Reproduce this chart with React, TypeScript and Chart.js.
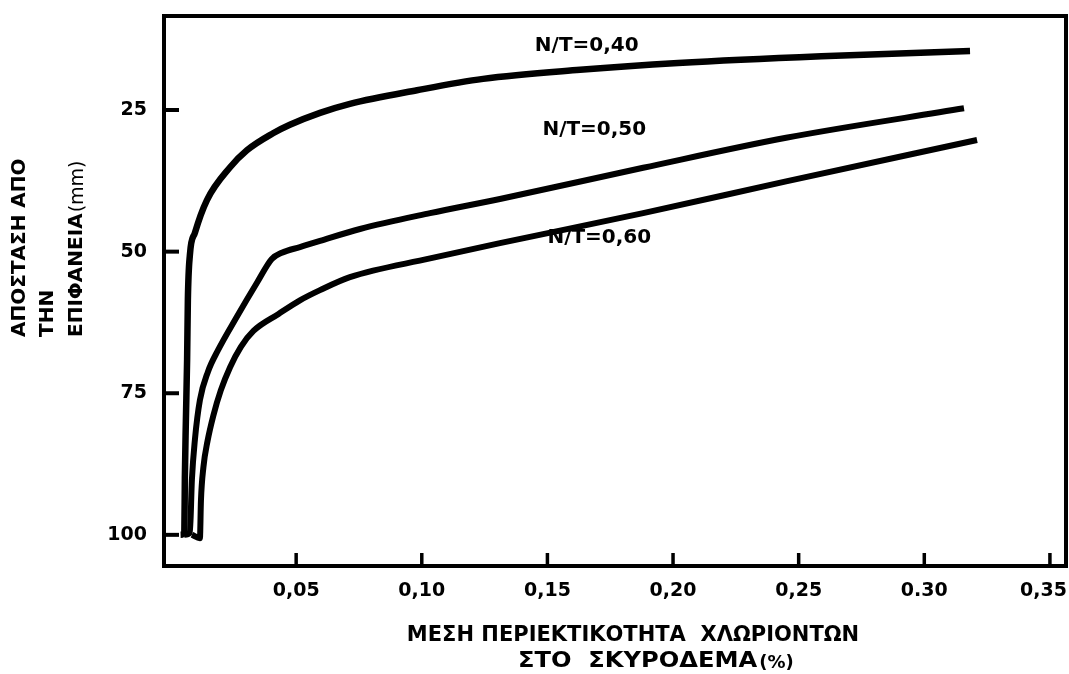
import React, { useEffect, useRef } from "react";
import { Chart, registerables } from "chart.js";

Chart.register(...registerables);

// Axis ticks
const xTickValues = [0.05, 0.1, 0.15, 0.2, 0.25, 0.3, 0.35];
const xTickLabels = ["0,05", "0,10", "0,15", "0,20", "0,25", "0.30", "0,35"];
const yTickValues = [25, 50, 75, 100];
const yTickLabels = ["25", "50", "75", "100"];

// Series names
const seriesNames = ["N/T=0,40", "N/T=0,50", "N/T=0,60"];

// N/T = 0,40 : chloride content (%) vs depth (mm)
const chloride040 = [0.004, 0.0055, 0.0057, 0.0061, 0.0066, 0.0069, 0.0077, 0.0097, 0.0145, 0.0237, 0.0304, 0.0408, 0.0475, 0.0595, 0.0714, 0.0981, 0.1244, 0.163, 0.202, 0.259, 0.3182];
const depth040 = [100, 99.5, 90, 80, 69, 58.5, 50.6, 46.7, 40.9, 35.1, 32.1, 29.1, 27.6, 25.5, 23.9, 21.5, 19.5, 17.9, 16.7, 15.5, 14.6];

// N/T = 0,50
const chloride050 = [0.0055, 0.0077, 0.0085, 0.0097, 0.0117, 0.0149, 0.0189, 0.0264, 0.0344, 0.0403, 0.0443, 0.0515, 0.0595, 0.0754, 0.1033, 0.1311, 0.1881, 0.245, 0.3158];
const depth050 = [100, 99.6, 90.3, 83.2, 76.2, 71.2, 67.4, 61.5, 55.5, 51.3, 50.2, 49.2, 48.1, 46.0, 43.2, 40.7, 35.2, 29.9, 24.7];

// N/T = 0,60
const chloride060 = [0.0085, 0.0117, 0.0121, 0.0131, 0.0147, 0.017, 0.02, 0.0237, 0.028, 0.033, 0.043, 0.0515, 0.0595, 0.0714, 0.1033, 0.1311, 0.1881, 0.245, 0.321];
const depth060 = [100, 100.6, 94, 88, 83.5, 79, 74.5, 70.4, 66.8, 64.0, 61.0, 58.6, 56.8, 54.5, 51.2, 48.5, 43.2, 37.6, 30.3];

// Label anchors (data space) for the curve names
const labelX = [0.145, 0.148, 0.15];
const labelY = [13.7, 28.5, 47.6];

const xTitleLine1 = "ΜΕΣΗ ΠΕΡΙΕΚΤΙΚΟΤΗΤΑ  ΧΛΩΡΙΟΝΤΩΝ";
const xTitleLine2 = "ΣΤΟ  ΣΚΥΡΟΔΕΜΑ";
const xTitleUnit = "(%)";
const yTitleLines = ["ΑΠΟΣΤΑΣΗ ΑΠΟ", "ΤΗΝ", "ΕΠΙΦΑΝΕΙΑ"];
const yTitleUnit = "(mm)";

const FONT = "'DejaVu Sans', sans-serif";

const zip = (xs: number[], ys: number[]) => xs.map((x, i) => ({ x, y: ys[i] }));

const framePlugin = {
  id: "frameAndText",
  afterDraw(chart: any) {
    const { ctx, chartArea } = chart;
    const xs = chart.scales.x;
    const ys = chart.scales.y;
    ctx.save();
    ctx.strokeStyle = "#000";
    ctx.fillStyle = "#000";
    ctx.lineWidth = 4;
    ctx.strokeRect(chartArea.left, chartArea.top, chartArea.right - chartArea.left, chartArea.bottom - chartArea.top);

    // inward ticks
    ctx.lineWidth = 4;
    yTickValues.forEach((v) => {
      const py = ys.getPixelForValue(v);
      ctx.beginPath();
      ctx.moveTo(chartArea.left, py);
      ctx.lineTo(chartArea.left + 15, py);
      ctx.stroke();
    });
    ctx.lineWidth = 3.5;
    xTickValues.forEach((v) => {
      const px = xs.getPixelForValue(v);
      ctx.beginPath();
      ctx.moveTo(px, chartArea.bottom);
      ctx.lineTo(px, chartArea.bottom - 13);
      ctx.stroke();
    });

    // x tick labels (kept inside the canvas)
    ctx.font = `bold 19px ${FONT}`;
    ctx.textAlign = "center";
    ctx.textBaseline = "middle";
    xTickValues.forEach((v, i) => {
      const w = ctx.measureText(xTickLabels[i]).width;
      let px = xs.getPixelForValue(v);
      px = Math.min(px, chart.width - w / 2 - 2);
      ctx.fillText(xTickLabels[i], px, chartArea.bottom + 25);
    });

    // curve labels
    ctx.font = `bold 20px ${FONT}`;
    ctx.textAlign = "left";
    seriesNames.forEach((name, i) => {
      ctx.fillText(name, xs.getPixelForValue(labelX[i]), ys.getPixelForValue(labelY[i]));
    });

    // x title
    ctx.textAlign = "center";
    ctx.font = `bold 21px ${FONT}`;
    ctx.fillText(xTitleLine1, 633, 636);
    const boldFont = `bold 21px ${FONT}`;
    const smallFont = `bold 18px ${FONT}`;
    const stretch = 1.15;
    ctx.font = boldFont;
    const w1 = ctx.measureText(xTitleLine2).width * stretch;
    ctx.textAlign = "left";
    const startX = 518;
    ctx.save();
    ctx.translate(startX, 662);
    ctx.scale(stretch, 1);
    ctx.fillText(xTitleLine2, 0, 0);
    ctx.restore();
    ctx.font = smallFont;
    ctx.fillText(xTitleUnit, startX + w1 + 2, 663);

    // y title (rotated, left aligned from bottom)
    const colX = [20, 48, 77];
    yTitleLines.forEach((line, i) => {
      ctx.save();
      ctx.translate(colX[i], 337);
      ctx.rotate(-Math.PI / 2);
      ctx.textAlign = "left";
      ctx.textBaseline = "middle";
      ctx.font = `bold 20px ${FONT}`;
      ctx.fillText(line, 0, 0);
      if (i === yTitleLines.length - 1) {
        const w = ctx.measureText(line).width;
        ctx.font = `19px ${FONT}`;
        ctx.fillText(yTitleUnit, w + 1, 1);
      }
      ctx.restore();
    });
    ctx.restore();
  },
};

const zeroPad = (scale: any) => {
  scale.paddingTop = 0;
  scale.paddingBottom = 0;
  scale.paddingLeft = 0;
  scale.paddingRight = 0;
};

export default function App() {
  const canvasRef = useRef<HTMLCanvasElement | null>(null);

  useEffect(() => {
    const canvas = canvasRef.current;
    if (!canvas) return;
    const mk = (label: string, xs: number[], ys: number[], w: number) => ({
      label,
      data: zip(xs, ys),
      borderColor: "#000",
      backgroundColor: "#000",
      borderWidth: w,
      pointRadius: 0,
      cubicInterpolationMode: "monotone" as const,
      borderCapStyle: "butt" as const,
      borderJoinStyle: "round" as const,
      fill: false,
    });
    const chart = new Chart(canvas, {
      type: "line",
      data: {
        datasets: [
          mk(seriesNames[0], chloride040, depth040, 6.5),
          mk(seriesNames[1], chloride050, depth050, 6),
          mk(seriesNames[2], chloride060, depth060, 6),
        ],
      },
      options: {
        responsive: false,
        animation: false,
        parsing: false,
        layout: { padding: { top: 16, right: 3, left: 0, bottom: 0 } },
        plugins: { legend: { display: false }, tooltip: { enabled: false }, title: { display: false } },
        scales: {
          x: {
            type: "linear",
            min: -0.0026,
            max: 0.3564,
            grid: { display: false, drawTicks: false },
            border: { display: false },
            afterBuildTicks: (scale: any) => {
              scale.ticks = xTickValues.map((v) => ({ value: v }));
            },
            afterFit: (scale: any) => {
              scale.height = 108;
              zeroPad(scale);
            },
            ticks: { display: false },
          },
          y: {
            type: "linear",
            reverse: true,
            min: 8.4,
            max: 105.5,
            grid: { display: false, drawTicks: false },
            border: { display: false },
            afterBuildTicks: (scale: any) => {
              scale.ticks = yTickValues.map((v) => ({ value: v }));
            },
            afterFit: (scale: any) => {
              scale.width = 164;
              zeroPad(scale);
            },
            ticks: {
              padding: 17,
              color: "#000",
              font: { family: FONT, size: 19, weight: "bold" },
              autoSkip: false,
              callback: (v: any) => {
                const i = yTickValues.indexOf(Number(v));
                return i >= 0 ? yTickLabels[i] : "";
              },
            },
          },
        },
      },
      plugins: [framePlugin],
    } as any);
    return () => chart.destroy();
  }, []);

  return (
    <div style={{ position: "fixed", left: 0, top: 0, width: 1069, height: 674, background: "#fff" }}>
      <canvas ref={canvasRef} width={1069} height={674} style={{ display: "block" }} />
    </div>
  );
}
